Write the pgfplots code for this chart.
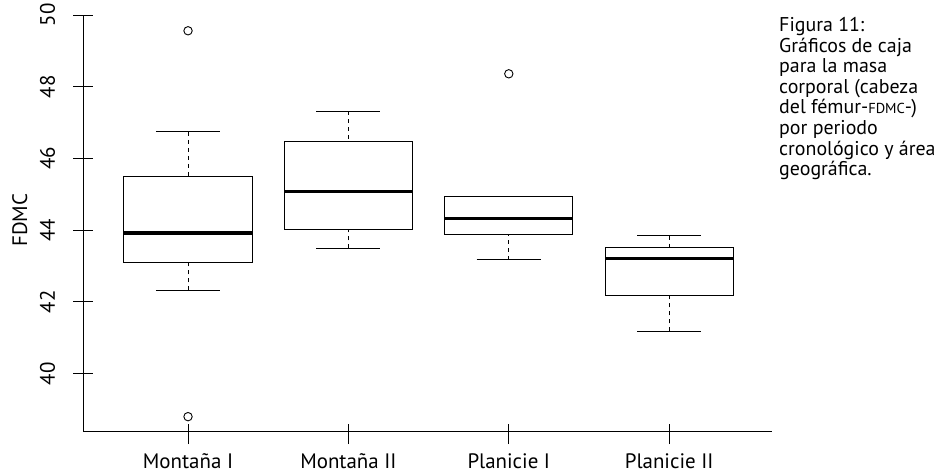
\documentclass[border=0pt]{standalone}
\usepackage{pgfplots}
\pgfplotsset{compat=1.18}
\usepgfplotslibrary{statistics}
\usepackage{fontspec}
\setmainfont{PT Sans}
\pgfplotsset{
  boxplot/draw/lower whisker/.code={
    \draw[/pgfplots/boxplot/every whisker/.try, dash pattern=on 4bp off 4bp]
      (boxplot box cs:\pgfplotsboxplotvalue{lower whisker},0.5)
      -- (boxplot box cs:\pgfplotsboxplotvalue{lower quartile},0.5);
    \draw[/pgfplots/boxplot/every whisker/.try, solid]
      (boxplot whisker cs:\pgfplotsboxplotvalue{lower whisker},0)
      -- (boxplot whisker cs:\pgfplotsboxplotvalue{lower whisker},1);
  },
  boxplot/draw/upper whisker/.code={
    \draw[/pgfplots/boxplot/every whisker/.try, dash pattern=on 4bp off 4bp]
      (boxplot box cs:\pgfplotsboxplotvalue{upper whisker},0.5)
      -- (boxplot box cs:\pgfplotsboxplotvalue{upper quartile},0.5);
    \draw[/pgfplots/boxplot/every whisker/.try, solid]
      (boxplot whisker cs:\pgfplotsboxplotvalue{upper whisker},0)
      -- (boxplot whisker cs:\pgfplotsboxplotvalue{upper whisker},1);
  },
}
\begin{document}
\begin{tikzpicture}
\path[use as bounding box] (0,0) rectangle (936bp,473bp);
\begin{axis}[
  at={(83.3bp,42bp)}, anchor=south west,
  scale only axis, width=689bp, height=416bp,
  xmin=0.347, xmax=4.643, ymin=38.4, ymax=50,
  axis x line=bottom, axis y line=left,
  axis line style={-, line width=0.9bp, black},
  xtick={1,2,3,4},
  xticklabels={Montaña I, Montaña II, Planicie I, Planicie II},
  ytick={40,42,44,46,48,50},
  tick align=center, major tick length=20bp,
  tick style={line width=0.9bp, black},
  xtick style={yshift=-3bp},
  /pgf/number format/assume math mode=true,
  tick label style={font=\fontsize{21}{25}\selectfont},
  xticklabel style={anchor=base, inner sep=0pt, yshift=-27.5bp},
  yticklabel style={xshift=-18.3bp, rotate=90, anchor=base, inner sep=0pt},
  boxplot/draw direction=y,
  boxplot/box extend=0.8,
  boxplot/whisker extend=0.4,
  boxplot/every box/.style={draw=black, line width=1bp},
  boxplot/every median/.style={draw=black, line width=3.2bp},
  boxplot/every whisker/.style={draw=black, line width=1bp},
  clip=false,
]
\addplot[black, mark=o, mark size=4.2bp, mark options={solid, line width=0.9bp},
  boxplot prepared={draw position=1, lower whisker=42.32, lower quartile=43.10,
    median=43.92, upper quartile=45.49, upper whisker=46.74}]
  table[row sep=\\, y index=0] {data\\ 49.56\\ 38.80\\};
\addplot[black, mark=o, mark size=4.2bp, mark options={solid, line width=0.9bp},
  boxplot prepared={draw position=2, lower whisker=43.49, lower quartile=44.01,
    median=45.08, upper quartile=46.46, upper whisker=47.31}]
  coordinates {};
\addplot[black, mark=o, mark size=4.2bp, mark options={solid, line width=0.9bp},
  boxplot prepared={draw position=3, lower whisker=43.17, lower quartile=43.87,
    median=44.33, upper quartile=44.94, upper whisker=44.94}]
  table[row sep=\\, y index=0] {data\\ 48.36\\};
\addplot[black, mark=o, mark size=4.2bp, mark options={solid, line width=0.9bp},
  boxplot prepared={draw position=4, lower whisker=41.18, lower quartile=42.19,
    median=43.20, upper quartile=43.52, upper whisker=43.85}]
  coordinates {};
\end{axis}
\node[rotate=90, anchor=base, inner sep=0pt, font=\fontsize{21}{25}\selectfont] at (27bp,252.7bp) {FDMC};
\node[anchor=north west, align=left, inner sep=0pt, font=\fontsize{20}{20.7}\selectfont] at (779bp,456bp)
  {Figura 11:\\Gráficos de caja\\para la masa\\corporal (cabeza\\del fémur-{\fontsize{14.5}{14.5}\selectfont FDMC}-)\\por periodo\\cronológico y área\\geográfica.};
\end{tikzpicture}
\end{document}
